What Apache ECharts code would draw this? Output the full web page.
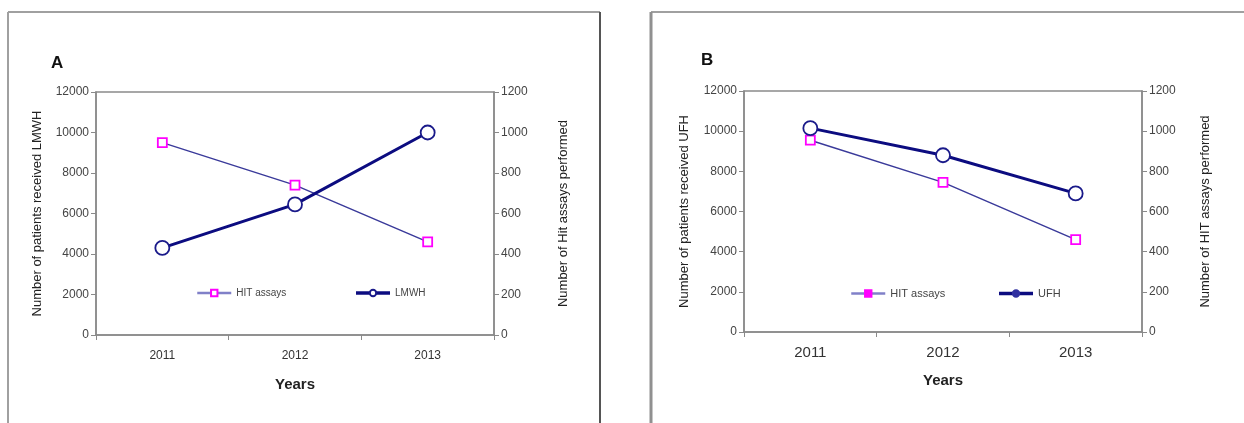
<!DOCTYPE html>
<html>
<head>
<meta charset="utf-8">
<script src="https://cdn.jsdelivr.net/npm/echarts@6/dist/echarts.min.js"></script>
<style>
  html, body { margin: 0; padding: 0; background: #fff; }
  #chart { width: 1244px; height: 423px; }
</style>
</head>
<body>
<div id="chart"></div>
<script>
// Years on the category axis
const years = ['2011', '2012', '2013'];
// Panel A: patients receiving LMWH and HIT assays performed
const lmwhPatients = [4300, 6450, 10000];
const hitAssaysA = [950, 740, 460];
// Panel B: patients receiving UFH and HIT assays performed
const ufhPatients = [10150, 8800, 6900];
const hitAssaysB = [955, 745, 460];
// Tick ranges
const leftMax = 12000, leftStep = 2000;
const rightMax = 1200, rightStep = 200;

const FONT = '"Liberation Sans", Arial, sans-serif';
const AX = '#8a8a8a';

function yAxis(gridIndex, max, step, name, position, gap) {
  return {
    type: 'value', gridIndex, position, min: 0, max, interval: step,
    name, nameLocation: 'middle', nameGap: gap, nameRotate: 90,
    nameTextStyle: { fontFamily: FONT, fontSize: 13, color: '#222' },
    axisLine: { show: true, lineStyle: { color: AX, width: 1.5 } },
    axisTick: { show: true, length: 5, inside: false, lineStyle: { color: AX } },
    axisLabel: { fontFamily: FONT, fontSize: 12, color: '#444', margin: 7,
                 formatter: v => String(v) },
    splitLine: { show: false }
  };
}

function xAxis(gridIndex, fontSize, margin, gap) {
  return {
    type: 'category', gridIndex, data: years, boundaryGap: true,
    name: 'Years', nameLocation: 'middle', nameGap: gap,
    nameTextStyle: { fontFamily: FONT, fontSize: 15, fontWeight: 'bold', color: '#222' },
    axisLine: { show: true, lineStyle: { color: AX, width: 1.5 } },
    axisTick: { show: true, length: 5, alignWithLabel: false, lineStyle: { color: AX } },
    axisLabel: { fontFamily: FONT, fontSize, color: '#333', margin },
    splitLine: { show: false }
  };
}

const hitStyle = (data, xi, yi) => ({
  name: 'HIT assays', type: 'line', xAxisIndex: xi, yAxisIndex: yi, data,
  symbol: 'rect', symbolSize: 9,
  lineStyle: { color: '#3a3a9a', width: 1.5 },
  itemStyle: { color: '#fff', borderColor: '#ff00ff', borderWidth: 1.8 },
  z: 3
});

const heparinStyle = (name, data, xi, yi) => ({
  name, type: 'line', xAxisIndex: xi, yAxisIndex: yi, data,
  symbol: 'circle', symbolSize: 14,
  lineStyle: { color: '#0c0c80', width: 3 },
  itemStyle: { color: '#fff', borderColor: '#1a1a8a', borderWidth: 1.8 },
  z: 4
});

const legendText = { fontFamily: FONT, fontSize: 10, color: '#444' };

const chart = echarts.init(document.getElementById('chart'), null, { renderer: 'canvas' });
chart.setOption({
  animation: false,
  backgroundColor: '#fff',
  graphic: [
    { type: 'line', shape: { x1: 8, y1: 12, x2: 600, y2: 12 }, style: { stroke: '#a0a0a0', lineWidth: 2 } },
    { type: 'line', shape: { x1: 8, y1: 12, x2: 8, y2: 423 }, style: { stroke: '#a0a0a0', lineWidth: 2 } },
    { type: 'line', shape: { x1: 600, y1: 12, x2: 600, y2: 423 }, style: { stroke: '#555', lineWidth: 2 } },
    { type: 'line', shape: { x1: 651, y1: 12, x2: 1244, y2: 12 }, style: { stroke: '#a0a0a0', lineWidth: 2 } },
    { type: 'line', shape: { x1: 651, y1: 12, x2: 651, y2: 423 }, style: { stroke: '#909090', lineWidth: 3 } },
    { type: 'text', left: 51, top: 55, style: { text: 'A', font: 'bold 17px ' + FONT, fill: '#111' } },
    { type: 'text', left: 701, top: 52, style: { text: 'B', font: 'bold 17px ' + FONT, fill: '#111' } }
  ],
  grid: [
    { left: 96, top: 92, width: 398, height: 243, show: true, borderColor: AX, borderWidth: 1.5 },
    { left: 744, top: 91, width: 398, height: 241, show: true, borderColor: AX, borderWidth: 1.5 }
  ],
  legend: [
    {
      data: [
        { name: 'HIT assays', itemStyle: { color: '#fff', borderColor: '#ff00ff' }, lineStyle: { color: '#8080c8', width: 2.5 } },
        { name: 'LMWH', lineStyle: { color: '#0c0c80', width: 3.5 } }
      ],
      left: 191, top: 283, itemGap: 68,
      itemWidth: 34, itemHeight: 8, textStyle: legendText
    },
    {
      data: [
        { name: 'HIT assays', itemStyle: { color: '#ff00ff', borderColor: '#ff00ff' }, lineStyle: { color: '#8080c8', width: 2.5 } },
        { name: 'UFH', itemStyle: { color: '#3030a0', borderColor: '#3030a0' }, lineStyle: { color: '#0c0c80', width: 3.5 } }
      ],
      left: 845, top: 283, itemGap: 52,
      itemWidth: 34, itemHeight: 8, textStyle: Object.assign({}, legendText, { fontSize: 11 })
    }
  ],
  xAxis: [xAxis(0, 12, 15, 42), xAxis(1, 15, 13, 41)],
  yAxis: [
    yAxis(0, leftMax, leftStep, 'Number of patients received LMWH', 'left', 52),
    yAxis(0, rightMax, rightStep, 'Number of Hit assays performed', 'right', 63),
    yAxis(1, leftMax, leftStep, 'Number of patients received UFH', 'left', 53),
    yAxis(1, rightMax, rightStep, 'Number of HIT assays performed', 'right', 57)
  ],
  series: [
    hitStyle(hitAssaysA, 0, 1),
    heparinStyle('LMWH', lmwhPatients, 0, 0),
    hitStyle(hitAssaysB, 1, 3),
    heparinStyle('UFH', ufhPatients, 1, 2)
  ]
});
</script>
</body>
</html>
